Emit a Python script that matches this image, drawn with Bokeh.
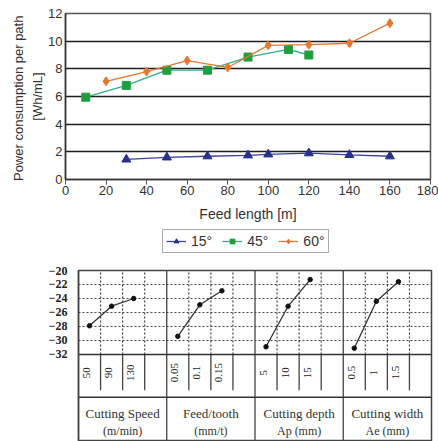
import math
from bokeh.plotting import figure
from bokeh.models import Range1d, FixedTicker, Legend, Label
from bokeh.core.properties import value
from bokeh.embed import file_html
from bokeh.resources import INLINE

# ---------------- data: power consumption ----------------
x15 = [30, 50, 70, 90, 100, 120, 140, 160]
y15 = [1.45, 1.6, 1.68, 1.75, 1.82, 1.9, 1.78, 1.68]
x45 = [10, 30, 50, 70, 90, 110, 120]
y45 = [5.95, 6.8, 7.9, 7.9, 8.85, 9.4, 9.0]
x60 = [20, 40, 60, 80, 100, 120, 140, 160]
y60 = [7.1, 7.8, 8.6, 8.1, 9.7, 9.75, 9.85, 11.3]
series_names = ["15°", "45°", "60°"]
x_ticks_top = [0, 20, 40, 60, 80, 100, 120, 140, 160, 180]
y_ticks_top = [0, 2, 4, 6, 8, 10, 12]

# ---------------- data: SN ratio main effects ----------------
factor_names = ["Cutting Speed", "Feed/tooth", "Cutting depth", "Cutting width"]
factor_units = ["(m/min)", "(mm/t)", "Ap (mm)", "Ae (mm)"]
level_labels = [["50", "90", "130"], ["0.05", "0.1", "0.15"],
                ["5", "10", "15"], ["0.5", "1", "1.5"]]
sn_values = [[-27.9, -25.1, -24.0], [-29.4, -24.9, -22.9],
             [-30.9, -25.1, -21.3], [-31.1, -24.4, -21.6]]
sn_ticks = [-20, -22, -24, -26, -28, -30, -32]

SANS = "Liberation Sans"
SERIF = "Liberation Serif"
c15l, c15, c45m, c45l, c60 = "#3a43a0", "#27318a", "#1f9e3e", "#2fae8e", "#e8772e"

# ================= top chart =================
p1 = figure(width=438, height=226, output_backend="svg", toolbar_location=None,
            x_range=Range1d(0, 180), y_range=Range1d(0, 12),
            min_border_top=13, min_border_left=65, min_border_right=8,
            min_border_bottom=47)
p1.xgrid.visible = False
p1.ygrid.ticker = FixedTicker(ticks=y_ticks_top)
p1.ygrid.grid_line_color = "#1e1e1e"
p1.ygrid.grid_line_width = 1.6
p1.outline_line_color = "#555555"
p1.outline_line_width = 1.5

for ax in (p1.xaxis[0], p1.yaxis[0]):
    ax.axis_line_color = "#333333"
    ax.axis_line_width = 1.5
    ax.major_label_text_font = SANS
    ax.major_label_text_font_size = "13px"
    ax.major_label_text_color = "#333333"
    ax.axis_label_text_font = SANS
    ax.axis_label_text_font_style = "normal"
    ax.axis_label_text_color = "#333333"
    ax.minor_tick_line_color = None
    ax.major_tick_in = 0

p1.xaxis.ticker = FixedTicker(ticks=x_ticks_top)
p1.xaxis.major_tick_out = 5
p1.xaxis.major_tick_line_color = "#555555"
p1.xaxis.major_label_standoff = 1
p1.xaxis.axis_label = "Feed length [m]"
p1.xaxis.axis_label_text_font_size = "14px"
p1.xaxis.axis_label_standoff = 8

p1.yaxis.ticker = FixedTicker(ticks=y_ticks_top)
p1.yaxis.major_tick_out = 0
p1.yaxis.major_tick_line_color = None
p1.yaxis.major_label_standoff = 3
p1.yaxis.axis_label = "Power consumption  per path\n[Wh/mL]"
p1.yaxis.axis_label_text_font_size = "13px"
p1.yaxis.axis_label_text_line_height = 1.3
p1.yaxis.axis_label_standoff = 0

p1.line(x15, y15, line_color=c15l, line_width=1.3)
p1.scatter(x15, y15, marker="triangle", size=9, fill_color=c15, line_color=c15)
p1.line(x45, y45, line_color=c45l, line_width=1.3)
p1.scatter(x45, y45, marker="square", size=8, fill_color=c45m, line_color=c45m)
p1.line(x60, y60, line_color=c60, line_width=1.3)
p1.scatter(x60, y60, marker="diamond", size=9, fill_color=c60, line_color=c60)

# ================= legend strip (same series, range kept off-data) =================
pl = figure(width=438, height=32, output_backend="svg", toolbar_location=None,
            x_range=Range1d(1000, 1001), y_range=Range1d(1000, 1001),
            x_axis_location=None, y_axis_location=None,
            min_border_top=0, min_border_left=0, min_border_right=0,
            min_border_bottom=0)
pl.outline_line_color = None
pl.xgrid.visible = False
pl.ygrid.visible = False
g1 = pl.line(x15, y15, line_color=c15l, line_width=1.3)
s1 = pl.scatter(x15, y15, marker="triangle", size=8, fill_color=c15, line_color=c15)
g2 = pl.line(x45, y45, line_color=c45l, line_width=1.3)
s2 = pl.scatter(x45, y45, marker="square", size=7, fill_color=c45m, line_color=c45m)
g3 = pl.line(x60, y60, line_color=c60, line_width=1.3)
s3 = pl.scatter(x60, y60, marker="diamond", size=8, fill_color=c60, line_color=c60)
legend = Legend(items=[(series_names[0], [g1, s1]), (series_names[1], [g2, s2]),
                       (series_names[2], [g3, s3])],
                orientation="horizontal", location=(162, 5),
                label_text_font=SANS, label_text_font_size="14px",
                label_text_color="#333333",
                glyph_width=20, glyph_height=12, label_height=12,
                label_standoff=5, spacing=10, padding=3, margin=0,
                border_line_color="#555555", border_line_width=1.5,
                background_fill_color="white")
pl.add_layout(legend, "center")

# ================= bottom chart =================
p2 = figure(width=438, height=183, output_backend="svg", toolbar_location=None,
            x_range=Range1d(0, 16), y_range=Range1d(-44.43, -20),
            x_axis_location=None,
            min_border_top=12, min_border_left=78, min_border_right=7,
            min_border_bottom=0)
p2.outline_line_color = "#444444"
p2.outline_line_width = 1.5
p2.xgrid.visible = False
p2.ygrid.ticker = FixedTicker(ticks=sn_ticks[1:-1])
p2.ygrid.grid_line_color = "#444444"
p2.ygrid.grid_line_dash = "2 2"
p2.ygrid.grid_line_width = 1.2

ya = p2.yaxis[0]
ya.ticker = FixedTicker(ticks=sn_ticks)
ya.major_tick_out = 0
ya.major_tick_in = 0
ya.minor_tick_line_color = None
ya.axis_line_color = "#444444"
ya.axis_line_width = 1.5
ya.major_label_standoff = 11
ya.major_label_text_font = SERIF
ya.major_label_text_font_size = "12px"
ya.major_label_text_font_style = "bold"
ya.major_label_text_color = "#222222"

n_groups = len(factor_names)
n_sub = 4
y_top = sn_ticks[0]
y_plot_bottom = sn_ticks[-1]
y_sub_end = -37.1
y_row_line = -38.1

inner_x = [g * n_sub + k for g in range(n_groups) for k in range(1, n_sub)]
group_x = [g * n_sub for g in range(1, n_groups)]
p2.segment(x0=inner_x, y0=[y_plot_bottom] * len(inner_x), x1=inner_x, y1=[y_top] * len(inner_x),
           line_color="#444444", line_dash="2 2", line_width=1.2)
p2.segment(x0=inner_x, y0=[y_plot_bottom] * len(inner_x), x1=inner_x, y1=[y_sub_end] * len(inner_x),
           line_color="#444444", line_width=1.3)
p2.segment(x0=group_x, y0=[-44.43] * len(group_x), x1=group_x, y1=[y_top] * len(group_x),
           line_color="#444444", line_width=1.3)
p2.segment(x0=[0, 0], y0=[y_plot_bottom, y_row_line], x1=[16, 16], y1=[y_plot_bottom, y_row_line],
           line_color="#333333", line_width=1.5)

lvl_x, lvl_t, pts_x, pts_y = [], [], [], []
for g in range(n_groups):
    xs = [g * n_sub + i + 0.5 for i in range(len(sn_values[g]))]
    p2.line(xs, sn_values[g], line_color="#333333", line_width=1.3)
    pts_x += xs
    pts_y += sn_values[g]
    lvl_x += xs
    lvl_t += level_labels[g]
p2.scatter(pts_x, pts_y, size=4.5, fill_color="#111111", line_color="#111111")

p2.text(x=lvl_x, y=[-34.6] * len(lvl_x), text=lvl_t, angle=math.pi / 2,
        x_offset=-3, text_align="center", text_baseline="middle",
        text_font=value(SERIF), text_font_size="11px", text_color="#222222")

grp_x = [g * n_sub + n_sub / 2 for g in range(n_groups)]
p2.text(x=grp_x, y=[-40.4] * n_groups, text=factor_names, text_align="center",
        text_baseline="middle", text_font=value(SERIF), text_font_size="13px",
        text_color="#333333")
p2.text(x=grp_x, y=[-42.9] * n_groups, text=factor_units, text_align="center",
        text_baseline="middle", text_font=value(SERIF), text_font_size="12px",
        text_color="#333333")

p2.add_layout(Label(x=-2.04, y=-26, x_units="data", y_units="data", text="SN ratio (db)",
                    angle=math.pi / 2, text_align="center", text_baseline="middle",
                    text_font=SERIF, text_font_style="bold", text_font_size="14px",
                    text_color="#333333"))

open("out.html", "w").write(file_html([p1, pl, p2], INLINE))
